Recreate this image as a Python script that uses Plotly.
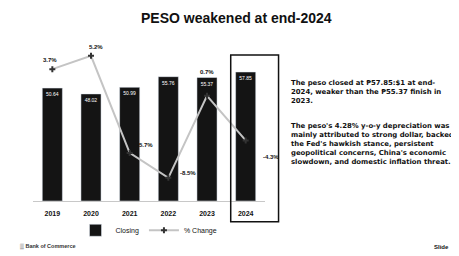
import plotly.graph_objects as go

years = ["2019", "2020", "2021", "2022", "2023", "2024"]
closing = [50.64, 48.02, 50.99, 55.76, 55.37, 57.85]
pct_change = [3.7, 5.2, -5.7, -8.5, 0.7, -4.3]
pct_labels = ["3.7%", "5.2%", "-5.7%", "-8.5%", "0.7%", "-4.3%"]
label_dx = [-2, 5, 15, 20, 0, 25]
label_dy = [-9, -9, -8, -5, -24, 17]

para1 = "The peso closed at ₱57.85:$1 at end-<br>2024, weaker than the ₱55.37 finish in<br>2023."
para2 = ("The peso's 4.28% y-o-y depreciation was<br>mainly attributed to strong dollar, backed<br>"
         "the Fed's hawkish stance, persistent<br>geopolitical concerns, China's economic<br>"
         "slowdown, and domestic inflation threat.")

FONT = "Liberation Sans"
TFONT = "DejaVu Sans"

# page renders the figure with an 8px body margin; work in screen pixels
OFF = 8
W, H = 459 - OFF, 256 - OFF
L, R, T, B = 32.6 - OFF, 193.6, 40 - OFF, 54
pw, ph = W - L - R, H - T - B


def px(x, y):
    x -= OFF
    y -= OFF
    return (x - L) / pw, (H - B - y) / ph


fig = go.Figure()
fig.add_trace(go.Bar(
    x=years, y=closing, name="Closing",
    marker=dict(color="#141414"),
    text=[f"{v:.2f}" for v in closing], textposition="inside",
    insidetextanchor="end", textangle=0,
    textfont=dict(color="white", size=5, family=FONT),
))
fig.add_trace(go.Scatter(
    x=years, y=pct_change, name="% Change", yaxis="y2",
    mode="lines+markers",
    line=dict(color="#c4c4c4", width=2),
    marker=dict(symbol="cross", size=5, color="#333333"),
))

annotations = []
for i, (v, lab, dx, dy) in enumerate(zip(pct_change, pct_labels, label_dx, label_dy)):
    annotations.append(dict(x=i, y=v, xref="x", yref="y2", text=f"<b>{lab}</b>",
                            showarrow=False, xshift=dx, yshift=-dy,
                            xanchor="center", yanchor="middle",
                            font=dict(size=6, color="#111", family=FONT)))


def pann(x, y, text, size, xanchor="center", yanchor="middle", color="#111", family=FONT):
    xp, yp = px(x, y)
    return dict(x=xp, y=yp, xref="paper", yref="paper", text=text, showarrow=False,
                xanchor=xanchor, yanchor=yanchor, align="left",
                font=dict(size=size, color=color, family=family))


annotations += [
    pann(237, 18, "<b>PESO weakened at end-2024</b>", 14),
    pann(289, 77, "<b>" + para1 + "</b>", 6.9, "left", "top", family=TFONT),
    pann(289, 120, "<b>" + para2 + "</b>", 6.9, "left", "top", family=TFONT),
    pann(18, 248, "<b>▒ Bank of Commerce</b>", 5.5, "left", "middle", "#333"),
    pann(452, 248, "<b>Slide</b>", 6, "right", "middle"),
]

bx0, by0 = px(231, 223)
bx1, by1 = px(279, 55)

fig.update_layout(
    width=W, height=H,
    margin=dict(l=L, r=R, t=T, b=B),
    paper_bgcolor="white", plot_bgcolor="white",
    bargap=0.48,
    showlegend=True,
    legend=dict(orientation="h", x=0.5, xanchor="center", y=-0.085, yanchor="top",
                font=dict(size=7, color="#111", family=FONT), itemwidth=30,
                tracegroupgap=0),
    xaxis=dict(type="category", range=[-0.5, 5.5], tickfont=dict(size=7, color="#111", family=FONT),
               showline=True, linecolor="#c8c8c8", linewidth=1, ticks="",
               ticklabelstandoff=6,
               tickprefix="<b>", ticksuffix="</b>"),
    yaxis=dict(range=[0, 72.2], visible=False),
    yaxis2=dict(range=[-11.1, 6.97], overlaying="y", side="right", visible=False),
    annotations=annotations,
    shapes=[dict(type="rect", xref="paper", yref="paper", x0=bx0, x1=bx1,
                 y0=by0, y1=by1, line=dict(color="#111", width=1.5))],
    font=dict(family=FONT),
)

fig.write_html("out.html")
